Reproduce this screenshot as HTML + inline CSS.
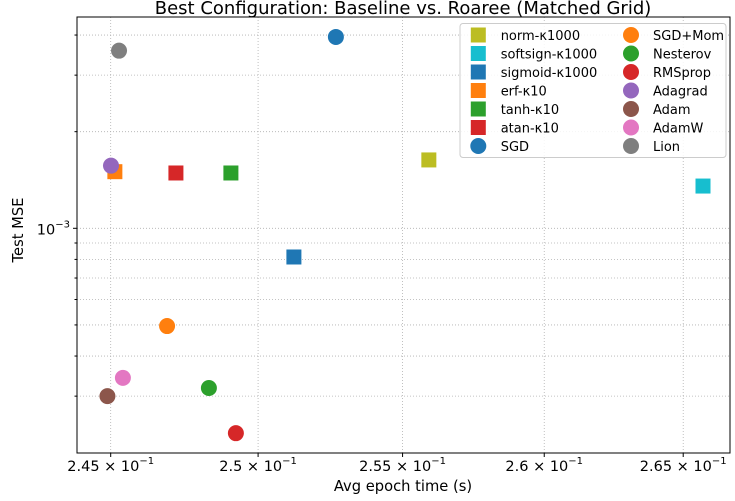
<!DOCTYPE html>
<html><head><meta charset="utf-8"><style>
body{margin:0;background:#fff;}
svg{display:block;font-family:"DejaVu Sans","Liberation Sans",sans-serif;}
</style></head><body>
<svg id="chart" width="735" height="501" viewBox="0 0 735 501">
<text x="403" y="14" font-size="18" text-anchor="middle" fill="#000">Best Configuration: Baseline vs. Roaree (Matched Grid)</text>
<g id="grid"></g>
<g id="marks"></g>
<rect x="77" y="17" width="653" height="436" fill="none" stroke="#000" stroke-width="1"/>
<g id="axes"></g>
<text x="403" y="491" font-size="14.7" text-anchor="middle">Avg epoch time (s)</text>
<text x="0" y="0" font-size="14.7" text-anchor="middle" transform="translate(23,230) rotate(-90)">Test MSE</text>
<g id="legend"></g>
</svg>
<script>
const labels = ["norm-κ1000","softsign-κ1000","sigmoid-κ1000","erf-κ10","tanh-κ10","atan-κ10","SGD","SGD+Mom","Nesterov","RMSprop","Adagrad","Adam","AdamW","Lion"];
const shapes = ["square","square","square","square","square","square","circle","circle","circle","circle","circle","circle","circle","circle"];
const colors = ["#bcbd22","#17becf","#1f77b4","#ff7f0e","#2ca02c","#d62728","#1f77b4","#ff7f0e","#2ca02c","#d62728","#9467bd","#8c564b","#e377c2","#7f7f7f"];
const epochTimes = [0.25592,0.26572,0.25123,0.24514,0.24907,0.24720,0.25268,0.24690,0.24832,0.24924,0.24501,0.24489,0.24541,0.24528];
const testMSE = [1.633e-3,1.354e-3,8.14e-4,1.501e-3,1.487e-3,1.487e-3,3.945e-3,4.96e-4,3.18e-4,2.30e-4,1.567e-3,3.00e-4,3.42e-4,3.576e-3];
const xTicks = [0.245,0.25,0.255,0.26,0.265];
const xTickLabels = ["2.45","2.5","2.55","2.6","2.65"];
const yMinorTicks = [3e-4,4e-4,5e-4,6e-4,7e-4,8e-4,9e-4,2e-3,3e-3,4e-3];

const NS="http://www.w3.org/2000/svg";
const L=77,R=730,T=17,B=453;
const x0=Math.log10(0.245), xPx0=110.7, xPerDec=16799;
function xs(v){return xPx0+(Math.log10(v)-x0)*xPerDec;}
const yPx0=228.3, yPerDec=321;
function ys(v){return yPx0-(Math.log10(v)+3)*yPerDec;}
function el(t,a,p){const e=document.createElementNS(NS,t);for(const k in a)e.setAttribute(k,a[k]);p.appendChild(e);return e;}
const grid=document.getElementById('grid'),axes=document.getElementById('axes'),marks=document.getElementById('marks'),legend=document.getElementById('legend');

xTicks.forEach((v,i)=>{
  const x=xs(v);
  const g=el('line',{x1:x,x2:x,y1:T,y2:B,stroke:'#b0b0b0','stroke-width':0.8,'stroke-dasharray':'1,2'},grid);
  
  
  el('line',{x1:x,x2:x,y1:B,y2:B+4,stroke:'#000'},axes);
  const t=el('text',{x:x,y:B+18,'font-size':14.5,'text-anchor':'middle'},axes);
  
  
  t.innerHTML=xTickLabels[i]+' × 10<tspan dy="-7" font-size="10">−1</tspan>';
});
[1e-3].concat(yMinorTicks).forEach((v,i)=>{
  const y=ys(v);
  const g=el('line',{x1:L,x2:R,y1:y,y2:y,stroke:'#b0b0b0','stroke-width':0.8,'stroke-dasharray':'1,2'},grid);
  
  
  el('line',{x1:L-(i==0?4:2.5),x2:L,y1:y,y2:y,stroke:'#000'},axes);
});
const yl=el('text',{x:70,y:ys(1e-3)+6,'font-size':14.5,'text-anchor':'end'},axes);


yl.innerHTML='10<tspan dy="-7" font-size="10">−3</tspan>';

function marker(parent,shape,cx,cy,c){
  if(shape==='square') return el('rect',{x:cx-7.5,y:cy-7.5,width:15,height:15,fill:c},parent);
  return el('circle',{cx:cx,cy:cy,r:8,fill:c},parent);
}
labels.forEach((lab,i)=>{
  const m=marker(marks,shapes[i],xs(epochTimes[i]),ys(testMSE[i]),colors[i]);
  
  
});

const box=el('rect',{x:460,y:23.5,width:266,height:134,rx:3,fill:'#fff','fill-opacity':0.85,stroke:'#ccc'},legend);


labels.forEach((lab,i)=>{
  const col=i<7?0:1,row=i<7?i:i-7;
  const cy=35+row*18.5;
  const mx=col?631:478.3, tx=col?653:500.7;
  const g=el('g',{},legend);
  
  
  marker(g,shapes[i],mx,cy,colors[i]);
  const t=el('text',{x:tx,y:cy+5,'font-size':13},g);
  t.textContent=lab;
});
</script>
</body></html>
